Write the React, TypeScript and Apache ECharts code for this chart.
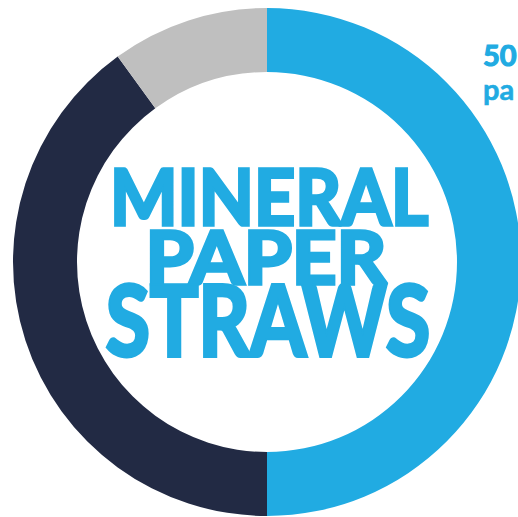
import React, { useEffect, useRef } from "react";
import * as echarts from "echarts";

const categories = ["Paper", "Mineral", "Other"];
const values = [50, 40, 10];
const colors = ["#21abe2", "#222a44", "#bfbfbf"];
const titleLines = ["MINERAL", "PAPER", "STRAWS"];
const sideLabel = ["50", "pa"];

export default function App() {
  const ref = useRef<HTMLDivElement>(null);
  useEffect(() => {
    document.body.style.margin = "0";
    const chart = echarts.init(ref.current!, null, { renderer: "svg" });
    const blue = "#21abe2";
    const t = (text: string, x: number, y: number, size: number, sx: number, lw: number, align = "center") => ({
      type: "text",
      x,
      y,
      scaleX: sx,
      style: {
        text,
        fill: blue,
        stroke: blue,
        lineWidth: lw,
        font: `bold ${size}px Lato`,
        align,
        verticalAlign: "middle",
      },
    });
    chart.setOption({
      animation: false,
      series: [
        {
          type: "pie",
          center: [267, 262],
          radius: [190, 254],
          startAngle: 90,
          clockwise: true,
          label: { show: false },
          labelLine: { show: false },
          emphasis: { disabled: true },
          itemStyle: { borderWidth: 0 },
          data: categories.map((c, i) => ({
            name: c,
            value: values[i],
            itemStyle: { color: colors[i] },
          })),
        },
      ],
      graphic: [
        t(titleLines[0], 269, 195, 77, 0.93, 3.5),
        t(titleLines[1], 266, 256, 72, 1.08, 3.5),
        t(titleLines[2], 268, 318, 97, 0.83, 4),
        t(sideLabel[0], 483, 54, 29, 1, 1.2, "left"),
        t(sideLabel[1], 483, 88, 29, 1, 0.6, "left"),
      ],
    });
    return () => chart.dispose();
  }, []);
  return <div ref={ref} style={{ width: 518, height: 517 }} />;
}
